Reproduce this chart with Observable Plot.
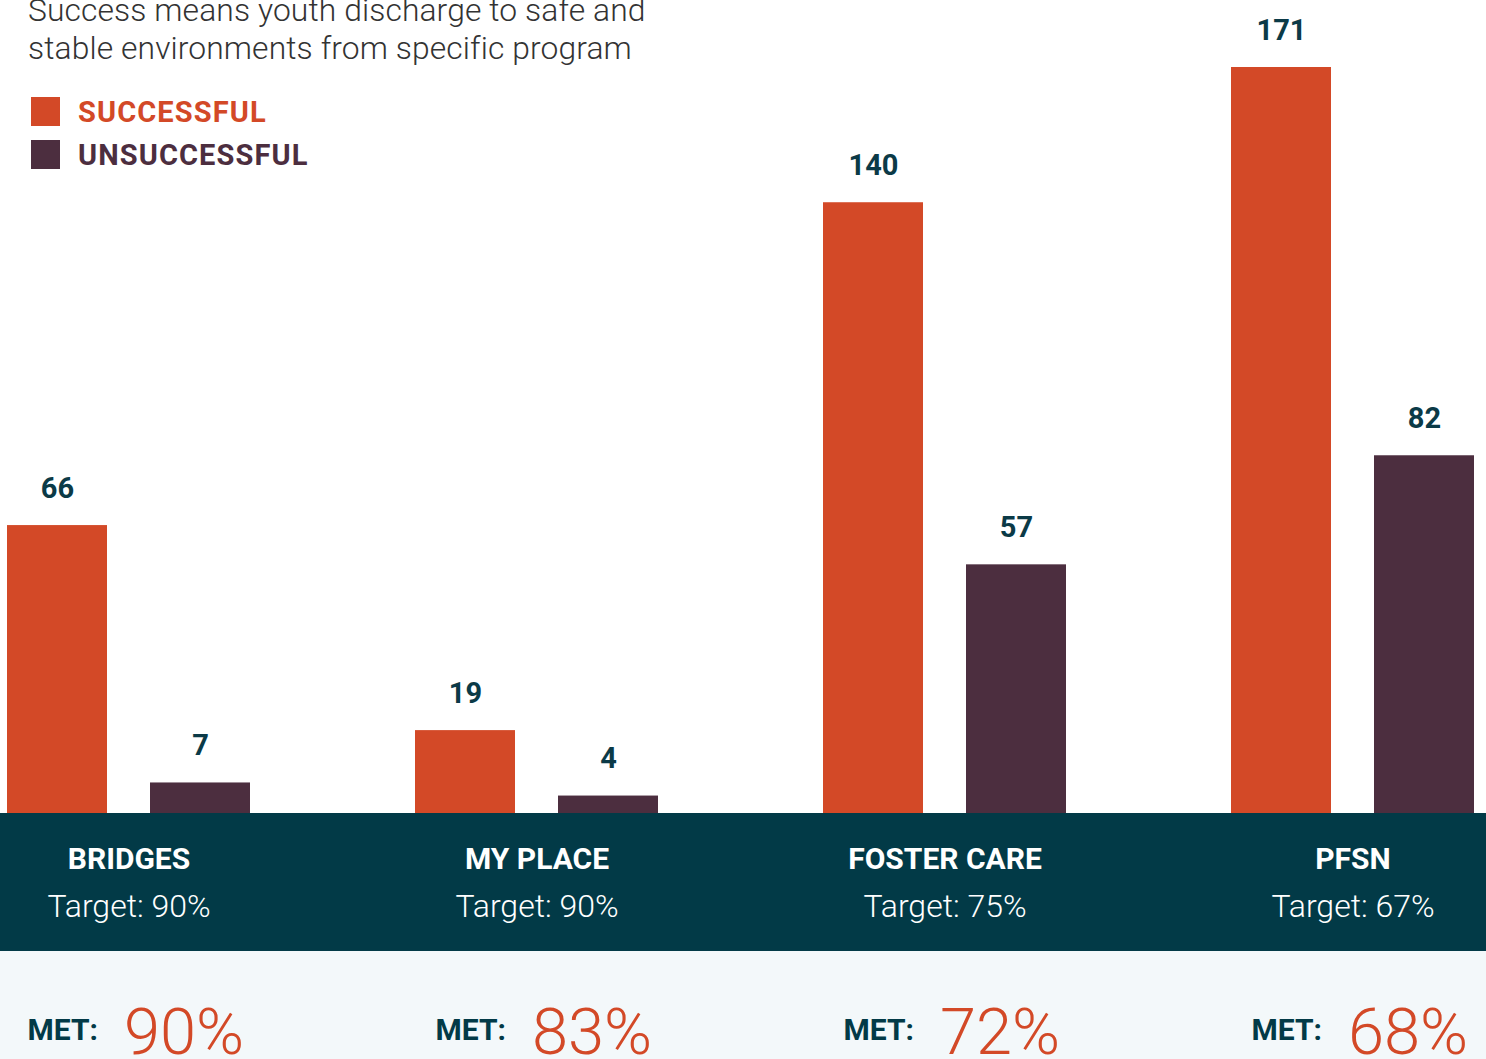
<!DOCTYPE html>
<html>
<head>
<meta charset="utf-8">
<script src="https://cdn.jsdelivr.net/npm/d3@7"></script>
<script src="https://cdn.jsdelivr.net/npm/@observablehq/plot@0.6"></script>
<style>
  html, body { margin: 0; padding: 0; background: #fff; }
  #wrap {
    position: relative; width: 1486px; height: 1059px; overflow: hidden;
    font-family: Roboto, "Noto Sans", sans-serif;
    background: linear-gradient(to bottom, #ffffff 0px, #ffffff 813px, #023a47 813px, #023a47 951px, #f3f8fa 951px, #f3f8fa 1059px);
  }
  #wrap svg { position: absolute; left: 0; top: 0; background: transparent; }
  #subtitle {
    position: absolute; left: 28px; top: -9px; width: 760px;
    font-size: 31.8px; font-weight: 300; line-height: 38px; color: #333333;
    z-index: 2; white-space: nowrap; letter-spacing: 0.1px;
  }
  #legend { position: absolute; left: 31px; top: 90px; z-index: 2; }
  .lg { display: flex; align-items: center; height: 43px; font-weight: 700; font-size: 29px; letter-spacing: 1.1px; }
  .lg .sw { width: 29px; height: 29px; margin-right: 18px; }
</style>
</head>
<body>
<div id="wrap">
  <div id="subtitle"></div>
  <div id="legend"></div>
</div>
<script>
const subtitleLines = ["Success means youth discharge to safe and", "stable environments from specific program"];
const programs = ["BRIDGES", "MY PLACE", "FOSTER CARE", "PFSN"];
const series = ["SUCCESSFUL", "UNSUCCESSFUL"];
const successful = [66, 19, 140, 171];
const unsuccessful = [7, 4, 57, 82];
const targets = ["Target: 90%", "Target: 90%", "Target: 75%", "Target: 67%"];
const met = ["90%", "83%", "72%", "68%"];
const colors = ["#d34927", "#4c2e3f"];

const rows = [];
programs.forEach((p, i) => {
  rows.push({program: p, series: series[0], value: successful[i]});
  rows.push({program: p, series: series[1], value: unsuccessful[i]});
});
const info = programs.map((p, i) => ({program: p, target: targets[i], met: met[i]}));

const wrap = document.getElementById("wrap");
const sub = document.getElementById("subtitle");
subtitleLines.forEach(l => { const d = document.createElement("div"); d.textContent = l; sub.appendChild(d); });
const legend = document.getElementById("legend");
series.forEach((s, i) => {
  const row = document.createElement("div");
  row.className = "lg";
  row.style.color = colors[i];
  const sw = document.createElement("div");
  sw.className = "sw";
  sw.style.background = colors[i];
  row.appendChild(sw);
  row.appendChild(document.createTextNode(s));
  legend.appendChild(row);
});

const chart = Plot.plot({
  width: 1486,
  height: 1059,
  marginTop: 67,
  marginBottom: 246,
  marginLeft: 6,
  marginRight: 10,
  style: {background: "transparent", fontFamily: "Roboto, sans-serif", overflow: "visible"},
  facet: {margin: 0},
  fx: {domain: programs, paddingInner: 0.404, paddingOuter: 0, axis: null, label: null},
  x: {domain: series, paddingInner: 0.3007, paddingOuter: 0, axis: null, label: null},
  y: {domain: [0, d3.max(successful.concat(unsuccessful))], axis: null, label: null},
  color: {domain: series, range: colors},
  marks: [
    Plot.barY(rows, {fx: "program", x: "series", y: "value", fill: "series"}),
    Plot.text(rows, {fx: "program", x: "series", y: "value", text: d => String(d.value),
      lineAnchor: "bottom", dy: -28, fontSize: 29, fontWeight: 700, fill: "#0b3a47"}),
    Plot.text(info, {fx: "program", frameAnchor: "bottom", text: "program", lineAnchor: "bottom",
      dy: 55, fontSize: 30, fontWeight: 700, fill: "#ffffff", letterSpacing: "1px"}),
    Plot.text(info, {fx: "program", frameAnchor: "bottom", text: "target", lineAnchor: "bottom",
      dy: 103, fontSize: 32, fontWeight: 300, fill: "#ffffff"}),
    Plot.text(info, {fx: "program", frameAnchor: "bottom", text: () => "MET:", lineAnchor: "bottom",
      textAnchor: "end", dx: -31, dy: 226, fontSize: 30, fontWeight: 700, fill: "#023a47"}),
    Plot.text(info, {fx: "program", frameAnchor: "bottom", text: "met", lineAnchor: "bottom",
      textAnchor: "start", dx: -5, dy: 240, fontSize: 65, fontWeight: 300, fill: "#d34927"})
  ]
});
wrap.appendChild(chart);
</script>
</body>
</html>
